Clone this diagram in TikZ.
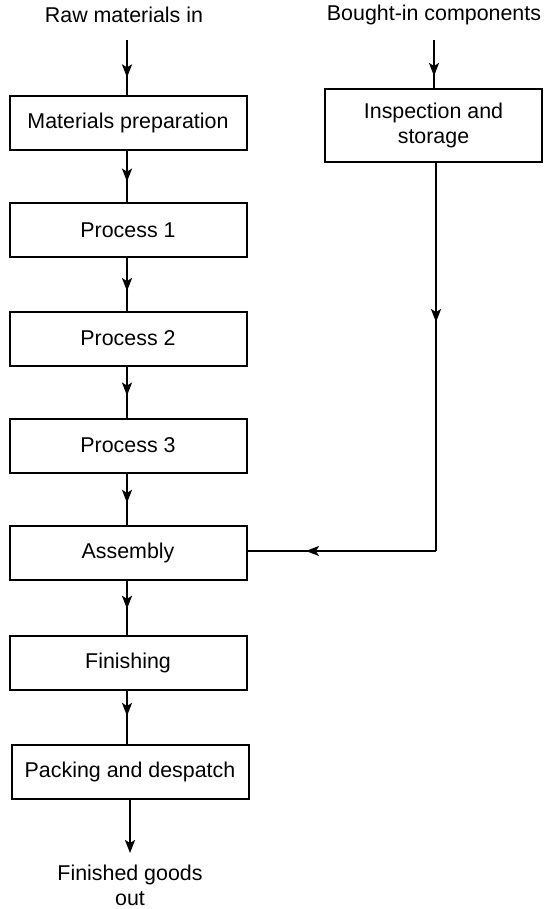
\documentclass[tikz,border=0pt]{standalone}
\usepackage{fontspec}
\setmainfont{Liberation Sans}
\usetikzlibrary{arrows.meta,calc}
\tikzset{
  box/.style={draw, line width=2pt, minimum width=237pt, minimum height=54pt, inner sep=0pt, align=center},
  lbl/.style={inner sep=0pt, align=center},
  flowline/.style={line width=2pt},
  endarrow/.style={flowline, -{Stealth[length=13pt,width=10pt,inset=3pt]}}
}
\newcommand{\midflow}[3]{%
  \draw[flowline] (#1) -- (#2);
  \draw[endarrow] (#1) -- ($(#1)!#3!(#2)$);
}
\begin{document}
\begin{tikzpicture}[x=1pt,y=-1pt,font=\fontsize{21.4}{25}\selectfont]
\useasboundingbox (0,0) rectangle (543,909);
% left column
\node[lbl] (raw) at (124,15) {Raw materials in};
\coordinate (rawend) at (127,40);
\node[box] (prep) at (128,123) {Materials preparation};
\node[box] (p1) at (128,230) {Process 1};
\node[box] (p2) at (128,338.5) {Process 2};
\node[box] (p3) at (128,445.5) {Process 3};
\node[box] (asm) at (128,553) {Assembly};
\node[box] (fin) at (128,662.5) {Finishing};
\node[box] (pack) at (130,771.5) {Packing and despatch};
\node[lbl] (out) at (130,885) {Finished goods\\out};
\coordinate (outend) at (130,853);
% right column
\node[lbl] (bought) at (434,15) {Bought-in components};
\coordinate (boughtend) at (434,40);
\node[box, minimum width=217pt, minimum height=73pt] (insp) at (433.5,125.5) {Inspection and\\storage};
\coordinate (bend) at (436,551);
% connector end points on the boxes
\coordinate (prepN) at (rawend |- prep.north);
\coordinate (prepS) at (rawend |- prep.south);
\coordinate (p1N) at (rawend |- p1.north);
\coordinate (p1S) at (rawend |- p1.south);
\coordinate (p2N) at (rawend |- p2.north);
\coordinate (p2S) at (rawend |- p2.south);
\coordinate (p3N) at (rawend |- p3.north);
\coordinate (p3S) at (rawend |- p3.south);
\coordinate (asmN) at (rawend |- asm.north);
\coordinate (asmS) at (rawend |- asm.south);
\coordinate (finN) at (rawend |- fin.north);
\coordinate (finS) at (rawend |- fin.south);
\coordinate (packN) at (rawend |- pack.north);
\coordinate (inspN) at (boughtend |- insp.north);
\coordinate (inspS) at (bend |- insp.south);
\coordinate (asmE) at (asm.east |- bend);
% connectors
\midflow{rawend}{prepN}{0.68}
\midflow{prepS}{p1N}{0.60}
\midflow{p1S}{p2N}{0.63}
\midflow{p2S}{p3N}{0.57}
\midflow{p3S}{asmN}{0.57}
\midflow{asmS}{finN}{0.52}
\midflow{finS}{packN}{0.48}
\draw[endarrow] (pack.south) -- (outend);
\midflow{boughtend}{inspN}{0.75}
\midflow{inspS}{bend}{0.41}
\midflow{bend}{asmE}{0.69}
\end{tikzpicture}
\end{document}
